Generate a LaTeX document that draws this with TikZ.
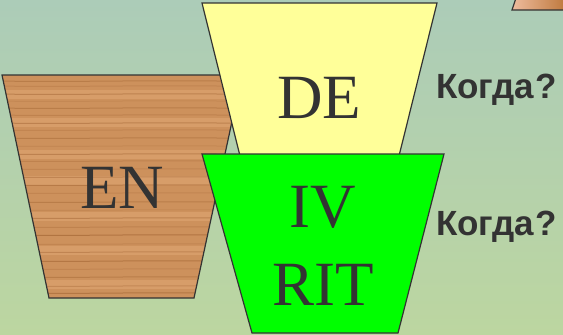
\documentclass[tikz,border=0pt]{standalone}
\usepackage{fontspec}
\setmainfont{Liberation Serif}
\newfontfamily\askfont{Liberation Sans}
\usetikzlibrary{positioning}
\definecolor{woodbrown}{RGB}{205,145,92}
\definecolor{wooddark}{RGB}{150,88,40}
\definecolor{woodlight}{RGB}{228,172,122}
\definecolor{paleyellow}{RGB}{255,255,153}
\definecolor{brightgreen}{RGB}{0,255,0}
\definecolor{inkgrey}{RGB}{51,51,51}
\definecolor{bgtop}{RGB}{172,204,184}
\definecolor{bgbottom}{RGB}{188,214,160}
\definecolor{cornerlight}{RGB}{238,188,158}
\definecolor{cornerbrown}{RGB}{190,120,60}

\tikzset{
  block/.style={draw=inkgrey, line width=1.2pt, line join=miter},
  word/.style={text=inkgrey, font=\fontsize{63}{63}\selectfont, inner sep=0pt},
  ask/.style={text=inkgrey, font=\askfont\bfseries\fontsize{35}{35}\selectfont,
    inner sep=0pt, anchor=base west},
}

\begin{document}
\begin{tikzpicture}[x=1pt,y=-1pt]
    % background
    \shade[top color=bgtop, bottom color=bgbottom] (0,0) rectangle (563,335);
    \useasboundingbox (0,0) rectangle (563,335);
    % corner piece
    \shade[block, left color=cornerlight, right color=cornerbrown]
        (512,10) -- (516,-2) -- (566,-2) -- (566,10) -- cycle;
    % wooden block
    \begin{scope}
        \clip (2,75) -- (242,75) -- (194,298) -- (49,298) -- cycle;
        \fill[woodbrown] (0,70) rectangle (250,300);
        \foreach \y in {90,118,150,176,212,246,280}
            \fill[woodlight, opacity=0.45] (0,\y) rectangle (250,\y+9);
        \foreach \y/\o in {81/0.35, 86/0.2, 94/0.4, 101/0.15, 108/0.35, 115/0.25, 123/0.4,
                           130/0.2, 138/0.35, 146/0.15, 154/0.4, 161/0.25, 169/0.2, 177/0.35,
                           185/0.4, 193/0.2, 202/0.35, 210/0.15, 218/0.4, 227/0.25, 235/0.5,
                           244/0.2, 252/0.35, 261/0.45, 269/0.2, 277/0.35, 286/0.3, 293/0.45}
            \draw[wooddark, opacity=\o, line width=1pt]
                (0,\y) .. controls (70,\y+1.5) and (150,\y-1.5) .. (250,\y+0.5);
    \end{scope}
    \draw[block] (2,75) -- (242,75) -- (194,298) -- (49,298) -- cycle;
    \node[word] (en) at (122,188) {EN};
    % yellow block
    \draw[block, fill=paleyellow] (202,3) -- (437,3) -- (398,160) -- (241,160) -- cycle;
    \node[word] (de) at (319,98) {DE};
    % green block
    \draw[block, fill=brightgreen] (202,154) -- (444,154) -- (398,333) -- (252,333) -- cycle;
    \node[word] (iv) at (323,207) {IV};
    \node[word] (rit) at (323,285) {RIT};
    % questions
    \node[ask] (when1) at (436,98) {Когда\hspace{2pt}?};
    \node[ask] (when2) at (436,235) {Когда\hspace{2pt}?};
\end{tikzpicture}
\end{document}
